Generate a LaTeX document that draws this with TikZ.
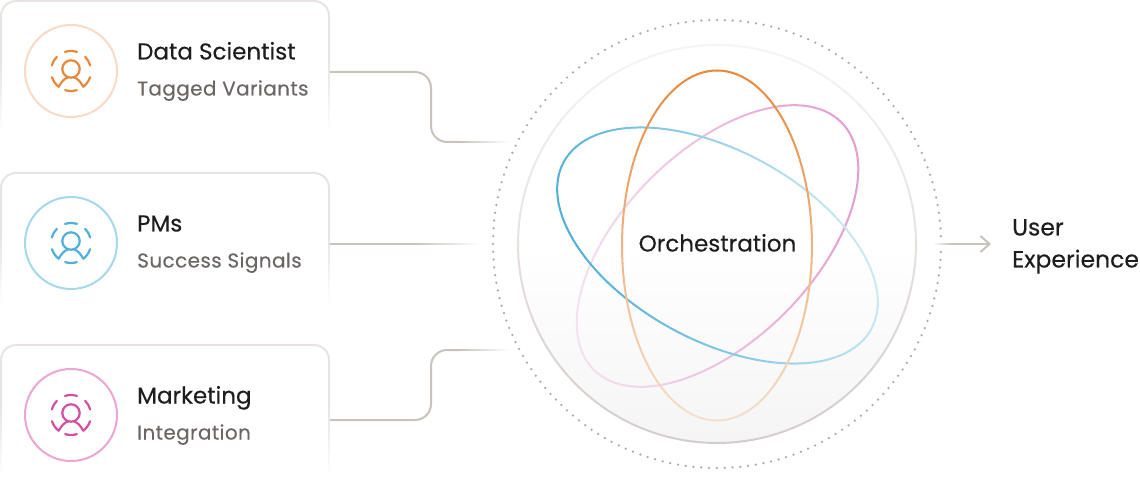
\documentclass[tikz,border=0pt]{standalone}
\usepackage{fontspec}
\setmainfont[FakeBold=0.25]{Poppins}
\newfontfamily\titlefont[FakeBold=0.25]{Poppins}
\newfontfamily\subfont[LetterSpace=2,FakeBold=0.15]{Poppins}
\usetikzlibrary{arrows.meta}
\definecolor{ink}{HTML}{1E1D1B}
\definecolor{subink}{HTML}{6B6664}
\definecolor{wire}{HTML}{C8C3BB}
\definecolor{edge}{HTML}{E7E4E1}
\definecolor{dotc}{HTML}{B0A9A1}
\definecolor{orbT}{HTML}{F6F5F3}
\definecolor{orbB}{HTML}{D3CDCB}
\definecolor{orangeA}{HTML}{E8883A}\definecolor{orangeB}{HTML}{F5E0CC}
\definecolor{blueA}{HTML}{4FB0D8}\definecolor{blueB}{HTML}{CDE9F3}
\definecolor{pinkA}{HTML}{E59CCF}\definecolor{pinkB}{HTML}{F5E2F0}
\definecolor{orangeR}{HTML}{FBD9C7}\definecolor{blueR}{HTML}{A5D8EA}\definecolor{pinkR}{HTML}{EBA6D3}
\definecolor{orangeI}{HTML}{E8883A}\definecolor{blueI}{HTML}{4FB0D8}\definecolor{pinkI}{HTML}{D44FA3}
\tikzset{
 titletext/.style={anchor=base west,text=ink,font=\titlefont\fontsize{23}{27}\selectfont,inner sep=0pt},
 subtext/.style={anchor=base west,text=subink,font=\subfont\fontsize{20}{24}\selectfont,inner sep=0pt},
 cardbox/.style={minimum width=328pt,minimum height=130pt,inner sep=0pt},
 ringc/.style={circle,draw=#1,line width=2pt,minimum size=92pt,inner sep=0pt},
 iconl/.style={line width=2.2pt,line cap=round,line join=round,draw=#1},
 wirel/.style={line width=2pt,draw=wire},
}
% orbit: cx cy a b rot colorA colorB gx gy
\newcommand{\orbit}[9]{%
 \pgfmathsetmacro\ca{cos(#5)}\pgfmathsetmacro\sa{sin(#5)}%
 \pgfmathsetmacro\da{#8*\ca+#9*\sa}\pgfmathsetmacro\db{-#8*\sa+#9*\ca}%
 \pgfmathsetmacro\hr{#3*sqrt((\da)^2+(#4/#3*\db)^2)}%
 \foreach \t in {0,3,...,357}{%
  \pgfmathsetmacro\xa{#1+#3*cos(\t)*\ca-#4*sin(\t)*\sa}%
  \pgfmathsetmacro\ya{#2+#3*cos(\t)*\sa+#4*sin(\t)*\ca}%
  \pgfmathsetmacro\xb{#1+#3*cos(\t+3)*\ca-#4*sin(\t+3)*\sa}%
  \pgfmathsetmacro\yb{#2+#3*cos(\t+3)*\sa+#4*sin(\t+3)*\ca}%
  \pgfmathsetmacro\pp{max(0,min(100,50+50*(#8*(\xa-#1)+#9*(\ya-#2))/\hr))}%
  \draw[line width=2pt,line cap=round,draw=#7!\pp!#6] (\xa,\ya)--(\xb,\yb);
 }}
% card: name, top y
\newcommand{\card}[2]{%
 \node[cardbox,anchor=north west] (#1) at (1,#2) {};
 \draw[line width=2pt,draw=edge] (1,#2+62) -- (1,#2+15) arc[start angle=180,end angle=270,radius=15] -- (314,#2) arc[start angle=270,end angle=360,radius=15] -- (329,#2+62);
 \foreach \s in {0,3,...,66}{%
  \pgfmathsetmacro\pp{100*\s/69}%
  \draw[line width=2pt,draw=white!\pp!edge] (1,#2+62+\s)--(1,#2+65+\s);
  \draw[line width=2pt,draw=white!\pp!edge] (329,#2+62+\s)--(329,#2+65+\s);
 }}
% icon: centre x y, color
\newcommand{\personicon}[3]{%
 \begin{scope}[shift={(#1,#2)}]
  \draw[iconl=#3] (0,-2) circle[radius=8.7];
  \foreach \u/\v in {72.5/107.5,135/164,16/45,253/287}{
   \draw[iconl=#3] ({20*cos(\u)},{-20*sin(\u)}) arc[start angle=-\u,end angle=-\v,radius=20];
  }
  \draw[iconl=#3] ({20*cos(198)},{-20*sin(198)}) arc[start angle=-198,end angle=-232,radius=20] .. controls (-9.5,11) and (-7,7.5) .. (-3,6.5);
  \draw[iconl=#3] ({20*cos(-18)},{-20*sin(-18)}) arc[start angle=18,end angle=52,radius=20] .. controls (9.5,11) and (7,7.5) .. (3,6.5);
 \end{scope}}
\begin{document}
\begin{tikzpicture}[x=1pt,y=-1pt]
\useasboundingbox (0,0) rectangle (1140,486);
\fill[white] (0,0) rectangle (1140,486);

% cards
\card{c1}{1}\card{c2}{173}\card{c3}{345}
\node[ringc=orangeR] (r1) at (71,71) {};
\node[ringc=blueR] (r2) at (71,243) {};
\node[ringc=pinkR] (r3) at (71,415) {};
\personicon{71}{71}{orangeI}
\personicon{71}{243}{blueI}
\personicon{71}{415}{pinkI}
\node[titletext] (t1) at (137,59.5) {Data Scientist};
\node[subtext] (s1) at (137,95.5) {Tagged Variants};
\node[titletext] (t2) at (137,231.5) {PMs};
\node[subtext] (s2) at (137,267.5) {Success Signals};
\node[titletext] (t3) at (137,403.5) {Marketing};
\node[subtext] (s3) at (137,439.5) {Integration};

% connectors
\coordinate (w1a) at (330,72);
\coordinate (w1b) at (460,142);
\coordinate (w2a) at (330,244);
\coordinate (w2b) at (415,244);
\coordinate (w3a) at (330,420);
\coordinate (w3b) at (460,350);
\draw[wirel] (w1a) -- (415,72) arc[start angle=-90,end angle=0,radius=16] -- (431,126) arc[start angle=180,end angle=90,radius=16] -- (w1b);
\draw[wirel] (w2a) -- (w2b);
\draw[wirel] (w3a) -- (415,420) arc[start angle=90,end angle=0,radius=16] -- (431,366) arc[start angle=180,end angle=270,radius=16] -- (w3b);
\foreach \s in {0,2,...,48}{
 \pgfmathsetmacro\pp{100*\s/50}
 \draw[line width=2pt,draw=white!\pp!wire] (460+\s,142)--(462+\s,142);
 \draw[line width=2pt,draw=white!\pp!wire] (460+\s,350)--(462+\s,350);
}
\foreach \s in {0,2,...,63}{
 \pgfmathsetmacro\pp{100*\s/65}
 \draw[line width=2pt,draw=white!\pp!wire] (415+\s,244)--(417+\s,244);
}

% outer dotted ring
\node[circle,minimum size=448pt,inner sep=0pt,line width=2.5pt,line cap=round,draw=dotc,dash pattern=on 0pt off 7.819pt] (halo) at (717,244) {};

% sphere
\node[circle,minimum size=398pt,inner sep=0pt,top color=white,bottom color=black!4,middle color=white] (orb) at (717,244) {};
\foreach \t in {0,3,...,357}{
 \pgfmathsetmacro\pp{100*(0.5-0.5*sin(\t+1.5))}
 \draw[line width=2pt,draw=orbT!\pp!orbB] ({717+199*cos(\t)},{244+199*sin(\t)}) arc[start angle=\t,end angle=\t+3,radius=199];
}

% orbits
\orbit{717.5}{246}{175}{95}{-45}{pinkA}{pinkB}{-1}{0.15}
\orbit{717.5}{245.5}{175}{95}{28.5}{blueA}{blueB}{1}{-0.35}
\orbit{717}{245.5}{175}{95}{90}{orangeA}{orangeB}{0}{1}

\node[anchor=base,text=ink,font=\titlefont\fontsize{23}{27}\selectfont,inner sep=0pt] (core) at (717.5,251.5) {Orchestration};

% output arrow
\node[anchor=base west,text=ink,font=\titlefont\fontsize{23.5}{27}\selectfont,inner sep=0pt] (u1) at (1012,235.5) {User};
\node[anchor=base west,text=ink,font=\titlefont\fontsize{23.5}{27}\selectfont,inner sep=0pt] (u2) at (1012,267.5) {Experience};
\coordinate (aa) at (950,244);
\coordinate (ab) at (991,244);
\draw[wirel,-{Straight Barb[length=9pt,width=16pt,line width=2pt]}] (aa) -- (ab);
\foreach \s in {0,2,...,16}{
 \pgfmathsetmacro\pp{100*\s/18}
 \draw[line width=2pt,draw=wire!\pp!white] (932+\s,244)--(934+\s,244);
}
\end{tikzpicture}
\end{document}
